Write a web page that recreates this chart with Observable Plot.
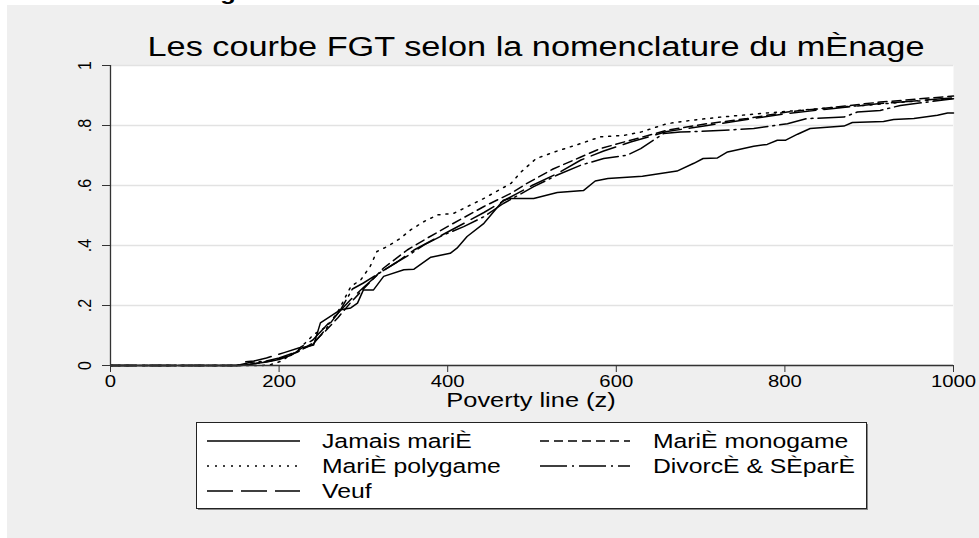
<!DOCTYPE html>
<html>
<head>
<meta charset="utf-8">
<script src="https://cdn.jsdelivr.net/npm/d3@7"></script>
<script src="https://cdn.jsdelivr.net/npm/@observablehq/plot@0.6"></script>
<style>
html,body{margin:0;padding:0;background:#fff;}
body{width:979px;height:538px;position:relative;overflow:hidden;font-family:"Liberation Sans",Arial,sans-serif;}
#bg,#chart,#overlay{position:absolute;left:0;top:0;}
#chart svg{display:block;}
</style>
</head>
<body>
<svg id="bg" width="979" height="538">
  <text transform="translate(250,0) scale(1.27,1)" text-anchor="end" font-weight="bold" font-size="20" fill="#000">nomenclature du mÈnage</text>
  <rect x="7" y="5" width="972" height="533" fill="#efefef"></rect>
</svg>
<div id="chart"></div>
<svg id="overlay" width="979" height="538"></svg>
<script>
// ---- data: poverty line z and FGT value ----
const seriesNames = ["Jamais mariÈ", "MariÈ monogame", "MariÈ polygame", "DivorcÈ & SÈparÈ", "Veuf"];

const jamaisMarie = [[0,0],[150,0],[160,0.002],[170,0.006],[185,0.012],[200,0.02],[215,0.035],[228,0.06],[241,0.068],[249,0.142],[273,0.186],[285,0.192],[293,0.208],[300,0.252],[312,0.252],[324,0.297],[348,0.319],[360,0.321],[380,0.361],[403,0.374],[411,0.391],[423,0.43],[443,0.474],[466,0.551],[474,0.557],[502,0.557],[530,0.577],[561,0.583],[575,0.615],[590,0.623],[631,0.631],[672,0.648],[692,0.674],[703,0.69],[720,0.692],[732,0.712],[763,0.731],[779,0.737],[791,0.751],[801,0.751],[815,0.771],[830,0.79],[870,0.798],[880,0.81],[917,0.813],[929,0.82],[953,0.823],[981,0.834],[993,0.842],[1000,0.842]];

const marieMonogame = [[0,0],[155,0],[170,0.006],[190,0.015],[206,0.028],[222,0.045],[240,0.075],[255,0.115],[270,0.16],[285,0.21],[300,0.255],[324,0.325],[352,0.385],[376,0.425],[403,0.468],[443,0.53],[475,0.574],[494,0.607],[525,0.655],[558,0.695],[581,0.723],[617,0.751],[660,0.784],[708,0.806],[755,0.823],[803,0.845],[858,0.861],[913,0.878],[1000,0.898]];

const mariePolygame = [[0,0],[180,0],[190,0.003],[202,0.014],[222,0.05],[241,0.103],[257,0.131],[269,0.175],[285,0.263],[297,0.286],[308,0.33],[316,0.38],[328,0.396],[344,0.424],[356,0.452],[372,0.48],[388,0.502],[407,0.507],[443,0.557],[475,0.607],[487,0.645],[505,0.69],[530,0.715],[558,0.74],[581,0.762],[609,0.767],[629,0.778],[660,0.806],[688,0.817],[724,0.828],[767,0.839],[815,0.85],[862,0.861],[894,0.867],[950,0.88],[1000,0.89]];

const divorceSepare = [[0,0],[150,0],[165,0.01],[185,0.015],[200,0.025],[220,0.045],[240,0.07],[255,0.12],[273,0.186],[287,0.255],[300,0.275],[320,0.31],[340,0.345],[355,0.37],[372,0.402],[395,0.435],[419,0.463],[443,0.496],[466,0.54],[502,0.596],[530,0.635],[558,0.668],[585,0.69],[613,0.701],[629,0.723],[656,0.773],[676,0.778],[728,0.784],[763,0.79],[803,0.806],[826,0.823],[870,0.828],[886,0.845],[913,0.85],[937,0.867],[1000,0.889]];

const veuf = [[0,0],[150,0],[160,0.012],[170,0.015],[185,0.025],[206,0.043],[225,0.06],[240,0.085],[255,0.13],[270,0.175],[285,0.22],[300,0.26],[320,0.31],[340,0.345],[360,0.385],[380,0.415],[400,0.445],[420,0.475],[443,0.51],[470,0.555],[500,0.6],[530,0.64],[558,0.685],[585,0.715],[617,0.745],[660,0.78],[708,0.8],[755,0.82],[803,0.84],[858,0.857],[913,0.873],[1000,0.892]];

const xTicks = [0, 200, 400, 600, 800, 1000];
const yTicks = [0, 0.2, 0.4, 0.6, 0.8, 1];
const yTickLabels = ["0", ".2", ".4", ".6", ".8", "1"];

const titleText = "Les courbe FGT selon la nomenclature du mÈnage";
const xLabel = "Poverty line (z)";

// styles (not data)
const dashes = ["none", "9,5", "2,6", "27,5,2,5", "26,8"];
const allSeries = [jamaisMarie, marieMonogame, mariePolygame, divorceSepare, veuf];

const lineMarks = allSeries.map((s, i) => Plot.line(s, {
  x: d => d[0], y: d => d[1], stroke: "#000", strokeWidth: 1.5,
  strokeDasharray: dashes[i] === "none" ? undefined : dashes[i], strokeLinejoin: "round"
}));

const chart = Plot.plot({
  width: 979, height: 420,
  marginLeft: 110, marginRight: 26, marginTop: 65, marginBottom: 55,
  x: {domain: [0, 1000]},
  y: {domain: [0, 1]},
  style: {background: "transparent", fontFamily: "Liberation Sans, Arial, sans-serif", color: "#000", overflow: "visible"},
  marks: [
    Plot.frame({fill: "white", stroke: null}),
    Plot.gridY(yTicks, {stroke: "#e2e2e2", strokeOpacity: 1, strokeWidth: 1.5}),
    ...lineMarks,
    Plot.ruleX([0], {stroke: "#333", strokeWidth: 1.3}),
    Plot.ruleY([0], {stroke: "#333", strokeWidth: 1.3}),
    Plot.axisX(xTicks, {tickSize: 7, tickPadding: 3, fontSize: 16, stroke: "#333", label: null, tickFormat: d => String(d)}),
    Plot.axisY(yTicks, {tickSize: 8, tickFormat: () => "", label: null, stroke: "#333"}),
    Plot.text(yTicks, {y: d => d, text: (d, i) => yTickLabels[i], frameAnchor: "left", dx: -25, rotate: -90, fontSize: 16, textAnchor: "middle", fill: "#000"})
  ]
});
document.getElementById("chart").appendChild(chart);

// horizontal stretch of tick labels, as in the reference
d3.select(chart).selectAll('g[aria-label="x-axis tick label"] text').each(function() {
  const b = this.getBBox(); const cx = b.x + b.width / 2;
  const t = this.getAttribute("transform") || "";
  this.setAttribute("transform", `${t} translate(${cx},0) scale(1.27,1) translate(${-cx},0)`);
});
d3.select(chart).selectAll('g[aria-label="text"] text').each(function() {
  const b = this.getBBox(); const cy = b.y + b.height / 2;
  const t = this.getAttribute("transform") || "";
  this.setAttribute("transform", `${t} translate(0,${cy}) scale(1,1.15) translate(0,${-cy})`);
});

// overlay: title, x label, legend
const ov = d3.select("#overlay");
ov.append("text").attr("transform", "translate(536,56) scale(1.27,1)")
  .attr("text-anchor", "middle").attr("font-size", 27).attr("fill", "#000").text(titleText);
ov.append("text").attr("transform", "translate(531,407) scale(1.27,1)")
  .attr("text-anchor", "middle").attr("font-size", 20).attr("fill", "#000").text(xLabel);

ov.append("rect").attr("x", 198).attr("y", 424).attr("width", 670).attr("height", 86).attr("fill", "#8a8a8a");
ov.append("rect").attr("x", 196.5).attr("y", 422.5).attr("width", 670).attr("height", 86)
  .attr("fill", "#fff").attr("stroke", "#222").attr("stroke-width", 1);

const legendOrder = [0, 1, 2, 3, 4];
legendOrder.forEach((si, k) => {
  const col = k % 2, row = Math.floor(k / 2);
  const cy = 441 + row * 25;
  const x0 = col === 0 ? 207 : 540, x1 = col === 0 ? 300 : 630;
  const tx = col === 0 ? 322 : 653;
  const ln = ov.append("line").attr("x1", x0).attr("x2", x1).attr("y1", cy).attr("y2", cy)
    .attr("stroke", "#000").attr("stroke-width", 1.5);
  if (dashes[si] !== "none") ln.attr("stroke-dasharray", dashes[si]);
  ov.append("text").attr("transform", `translate(${tx},${cy + 7}) scale(1.27,1)`)
    .attr("font-size", 19.5).attr("fill", "#000").text(seriesNames[si]);
});
</script>
</body>
</html>
